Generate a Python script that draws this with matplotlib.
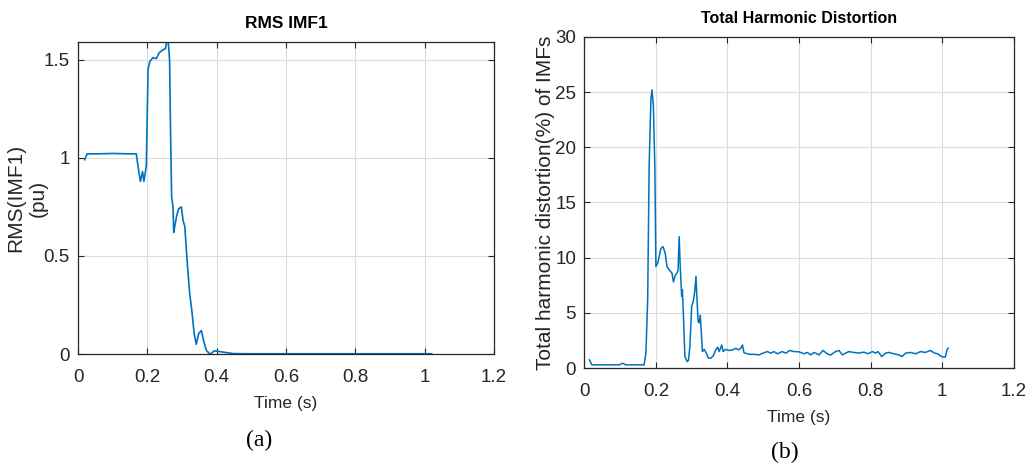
import numpy as np
import matplotlib
matplotlib.use('Agg')
import matplotlib.pyplot as plt

plt.rcParams['font.family'] = ['Liberation Sans', 'DejaVu Sans']

# (a) RMS of IMF1
t_rms = [0.019, 0.026, 0.05, 0.1, 0.15, 0.168, 0.176, 0.18, 0.186, 0.19, 0.197, 0.202,
         0.207, 0.216, 0.226, 0.234, 0.245, 0.252, 0.255, 0.26, 0.264, 0.267, 0.27, 0.274,
         0.276, 0.279, 0.284, 0.29, 0.298, 0.303, 0.308, 0.314, 0.322, 0.329, 0.335, 0.341,
         0.348, 0.356, 0.362, 0.37, 0.38, 0.394, 0.413, 0.428, 0.447, 0.5, 0.6, 0.8, 1.0, 1.02]
rms_imf1 = [0.99, 1.02, 1.02, 1.022, 1.02, 1.02, 0.92, 0.88, 0.93, 0.88, 0.96, 1.45,
            1.49, 1.51, 1.505, 1.535, 1.55, 1.555, 1.585, 1.595, 1.5, 1.12, 0.8, 0.75,
            0.62, 0.65, 0.7, 0.74, 0.75, 0.68, 0.65, 0.49, 0.31, 0.21, 0.105, 0.05,
            0.105, 0.12, 0.07, 0.02, 0.0, 0.017, 0.012, 0.008, 0.003, 0.002, 0.002, 0.002, 0.002, 0.002]

# (b) total harmonic distortion
t_thd = [0.014, 0.021, 0.06, 0.098, 0.107, 0.116, 0.167, 0.172, 0.177, 0.181, 0.186, 0.189,
         0.193, 0.197, 0.2, 0.205, 0.209, 0.214, 0.22, 0.226, 0.231, 0.237, 0.245, 0.249,
         0.254, 0.259, 0.262, 0.265, 0.268, 0.272, 0.274, 0.277, 0.281, 0.287, 0.291, 0.295,
         0.3, 0.304, 0.308, 0.312, 0.314, 0.318, 0.321, 0.324, 0.327, 0.33, 0.335, 0.341,
         0.347, 0.353, 0.36, 0.367, 0.373, 0.377, 0.384, 0.388, 0.395, 0.405, 0.414, 0.423,
         0.431, 0.437, 0.442, 0.446, 0.46, 0.474, 0.488, 0.502, 0.512, 0.521, 0.53, 0.54,
         0.553, 0.563, 0.574, 0.586, 0.6, 0.614, 0.623, 0.633, 0.642, 0.656, 0.667, 0.679,
         0.688, 0.702, 0.712, 0.721, 0.73, 0.74, 0.753, 0.767, 0.781, 0.793, 0.805, 0.814,
         0.821, 0.831, 0.842, 0.851, 0.865, 0.879, 0.888, 0.898, 0.912, 0.926, 0.94, 0.953,
         0.967, 0.979, 0.988, 0.998, 1.009, 1.014, 1.017]
thd = [0.75, 0.3, 0.3, 0.3, 0.45, 0.3, 0.3, 1.35, 6.2, 18.2, 24.3, 25.2,
       23.7, 18.2, 9.2, 9.5, 10.1, 10.85, 11.0, 10.4, 9.2, 8.9, 8.6, 7.8,
       8.4, 8.6, 8.9, 11.9, 9.2, 6.5, 7.1, 4.7, 1.05, 0.6, 0.7, 2.0,
       5.6, 6.0, 6.8, 8.3, 6.8, 4.2, 4.1, 4.8, 3.2, 1.5, 1.7, 1.35,
       0.9, 0.9, 1.1, 1.65, 1.9, 1.5, 2.1, 1.5, 1.7, 1.6, 1.65, 1.8,
       1.65, 1.8, 2.1, 1.4, 1.25, 1.25, 1.2, 1.4, 1.5, 1.35, 1.5, 1.3,
       1.5, 1.35, 1.6, 1.5, 1.48, 1.3, 1.42, 1.2, 1.42, 1.2, 1.6, 1.3,
       1.18, 1.5, 1.6, 1.2, 1.36, 1.5, 1.42, 1.36, 1.45, 1.3, 1.5, 1.36,
       1.5, 1.05, 1.36, 1.42, 1.3, 1.2, 1.05, 1.36, 1.42, 1.3, 1.5, 1.42,
       1.6, 1.36, 1.3, 1.05, 1.0, 1.7, 1.8]

x_ticks = [0, 0.2, 0.4, 0.6, 0.8, 1, 1.2]
x_labels = ['0', '0.2', '0.4', '0.6', '0.8', '1', '1.2']

line_color = '#0072BD'

fig = plt.figure(figsize=(10.27, 4.66), dpi=100)
ax1 = fig.add_axes([0.076, 0.240, 0.405, 0.670])
ax2 = fig.add_axes([0.569, 0.210, 0.418, 0.711])


def style(ax):
    ax.set_xlim(0, 1.2)
    ax.set_xticks(x_ticks)
    ax.set_xticklabels(x_labels)
    ax.grid(True, color='#dcdcdc', linewidth=0.8)
    ax.set_axisbelow(True)
    ax.tick_params(direction='in', top=True, right=True, labelsize=13.5,
                   length=4, width=0.8, pad=6, colors='#262626')
    ax.tick_params(axis='x', pad=11)
    for s in ax.spines.values():
        s.set_color('#262626')
        s.set_linewidth(0.9)
    ax.set_xlabel('Time (s)', fontsize=12.5, color='#262626', labelpad=7)


ax1.plot(t_rms, rms_imf1, color=line_color, linewidth=1.2)
style(ax1)
ax1.set_ylim(0, 1.59)
ax1.set_yticks([0, 0.5, 1, 1.5])
ax1.set_yticklabels(['0', '0.5', '1', '1.5'])
ax1.set_title('RMS IMF1', fontsize=12.5, fontweight='bold', pad=10)
ax1.set_ylabel('RMS(IMF1)\n(pu)', fontsize=15, color='#262626',
               linespacing=1.25)
ax1.yaxis.set_label_coords(-0.072, 0.5)

ax2.plot(t_thd, thd, color=line_color, linewidth=1.1)
style(ax2)
ax2.set_ylim(0, 30)
ax2.set_yticks([0, 5, 10, 15, 20, 25, 30])
ax2.set_title('Total Harmonic Distortion', fontsize=11.5, fontweight='bold', pad=10)
ax2.set_ylabel('Total harmonic distortion(%) of IMFs', fontsize=15,
               color='#262626', labelpad=0)

fig.text(0.252, 1 - 440 / 466, '(a)', fontsize=17, family='Liberation Serif',
         ha='center', va='center')
fig.text(0.764, 1 - 452 / 466, '(b)', fontsize=17, family='Liberation Serif',
         ha='center', va='center')

fig.savefig('out.png', dpi=100)
